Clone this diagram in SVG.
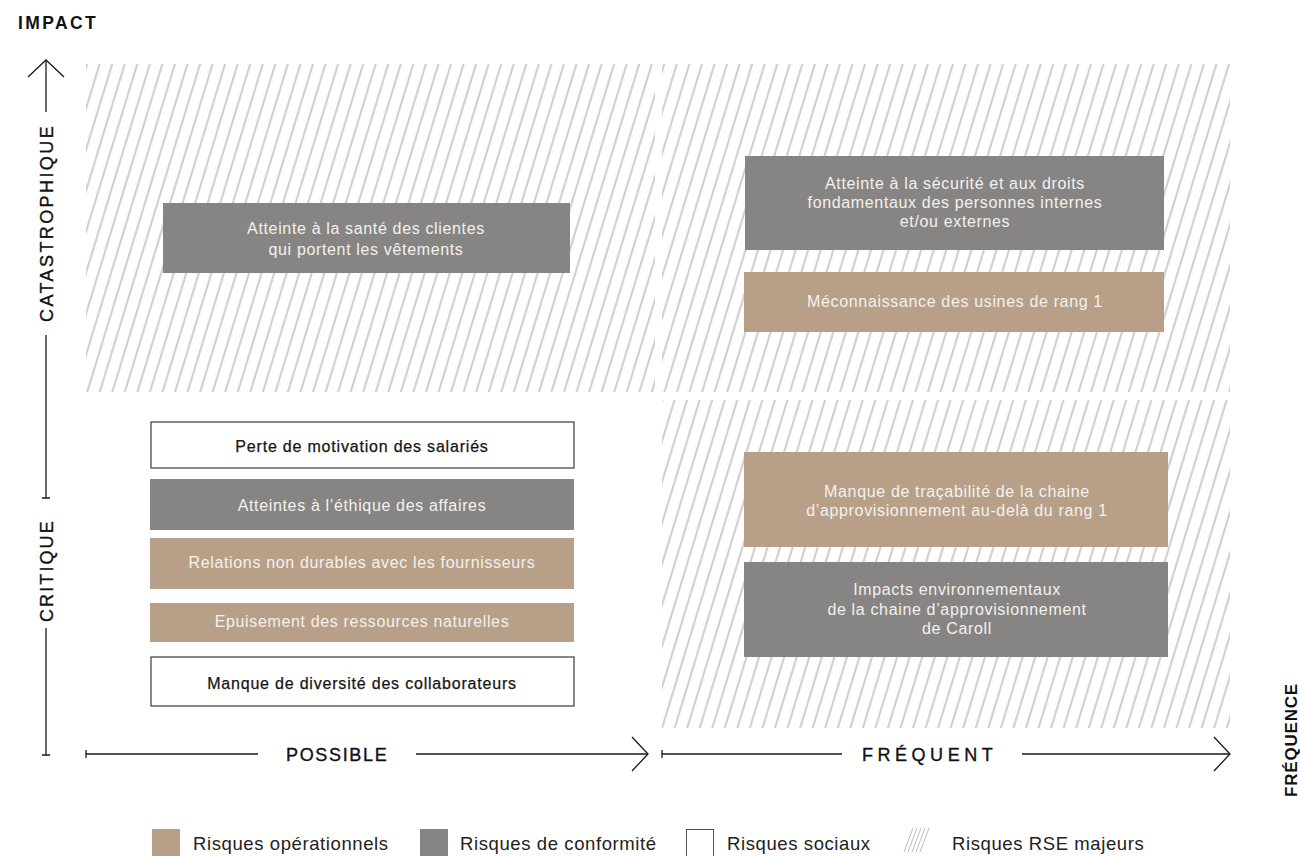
<svg xmlns="http://www.w3.org/2000/svg" width="1300" height="856" viewBox="0 0 1300 856">
<style>
.bt{font-family:"Liberation Sans",Arial,sans-serif;font-size:16px;letter-spacing:0.65px;text-anchor:middle;fill:#f4f1ee}
.dt{font-family:"Liberation Sans",Arial,sans-serif;font-size:16px;letter-spacing:0.8px;text-anchor:middle;fill:#151515;stroke:#151515;stroke-width:0.25}
.grey{fill:#868583}
.tan{fill:#b8a088}
.white{fill:#ffffff;stroke:#3a3a3a;stroke-width:1.2}
.ax{stroke:#1a1a1a;stroke-width:1.3;fill:none}
.al{font-family:"Liberation Sans",Arial,sans-serif;font-size:18px;letter-spacing:1.3px;fill:#111;stroke:#111;stroke-width:0.35;text-anchor:middle}
.lg{font-family:"Liberation Sans",Arial,sans-serif;font-size:18.5px;letter-spacing:0.6px;fill:#222}
</style>
<defs>
<pattern id="hatch" patternUnits="userSpaceOnUse" width="12" height="12" patternTransform="rotate(17)">
<line x1="6" y1="-2" x2="6" y2="14" stroke="#d0d0d0" stroke-width="2.2"/>
</pattern>
</defs>

<g id="hatch-areas">
<rect x="86" y="64" width="569" height="328" fill="url(#hatch)"/>
<rect x="662" y="64" width="568" height="328" fill="url(#hatch)"/>
<rect x="662" y="400" width="568" height="328" fill="url(#hatch)"/>
</g>

<g id="connectors">
<path class="ax" d="M46 60 V112 M46 335 V498 M42 498 H50 M46 628 V755 M42 755 H50"/>
<path class="ax" d="M28 77 L46 60 L64 77"/>
<path class="ax" d="M86 750 V758 M86 754 H258 M416 754 H647"/>
<path class="ax" d="M632 737 L648 754 L632 771"/>
<path class="ax" d="M662 750 V758 M662 754 H842 M1022 754 H1229"/>
<path class="ax" d="M1214 737 L1230 754 L1214 771"/>
</g>

<g id="axis-labels">
<text x="18" y="29" font-family="Liberation Sans, Arial, sans-serif" font-size="17.5" font-weight="bold" letter-spacing="1.2" fill="#111" textLength="79" lengthAdjust="spacing">IMPACT</text>
<text class="al" transform="translate(53,223.5) rotate(-90)" textLength="197" lengthAdjust="spacing">CATASTROPHIQUE</text>
<text class="al" transform="translate(53,571) rotate(-90)" textLength="102" lengthAdjust="spacing">CRITIQUE</text>
<text class="al" x="337" y="761" textLength="102" lengthAdjust="spacing">POSSIBLE</text>
<text class="al" x="928" y="761" textLength="132" lengthAdjust="spacing">FRÉQUENT</text>
<text transform="translate(1297,740) rotate(-90)" font-family="Liberation Sans, Arial, sans-serif" font-size="17" font-weight="bold" letter-spacing="0.8" text-anchor="middle" fill="#111">FRÉQUENCE</text>
</g>

<g id="n-sante">
<rect class="grey" x="163" y="203" width="407" height="70"/>
<text class="bt" x="366" y="234">Atteinte à la santé des clientes</text>
<text class="bt" x="366" y="255">qui portent les vêtements</text>
</g>

<g id="n-securite">
<rect class="grey" x="745" y="156" width="419" height="94"/>
<text class="bt" x="955" y="189">Atteinte à la sécurité et aux droits</text>
<text class="bt" x="955" y="208">fondamentaux des personnes internes</text>
<text class="bt" x="955" y="227">et/ou externes</text>
</g>

<g id="n-meconnaissance">
<rect class="tan" x="744" y="272" width="420" height="60"/>
<text class="bt" x="955" y="307">Méconnaissance des usines de rang 1</text>
</g>

<g id="n-motivation">
<rect class="white" x="151" y="422" width="423" height="46"/>
<text class="dt" x="362" y="452">Perte de motivation des salariés</text>
</g>

<g id="n-ethique">
<rect class="grey" x="150" y="479" width="424" height="51"/>
<text class="bt" x="362" y="511">Atteintes à l’éthique des affaires</text>
</g>

<g id="n-relations">
<rect class="tan" x="150" y="538" width="424" height="51"/>
<text class="bt" x="362" y="568">Relations non durables avec les fournisseurs</text>
</g>

<g id="n-epuisement">
<rect class="tan" x="150" y="603" width="424" height="39"/>
<text class="bt" x="362" y="627">Epuisement des ressources naturelles</text>
</g>

<g id="n-diversite">
<rect class="white" x="151" y="657" width="423" height="49"/>
<text class="dt" x="362" y="689">Manque de diversité des collaborateurs</text>
</g>

<g id="n-tracabilite">
<rect class="tan" x="744" y="452" width="424" height="95"/>
<text class="bt" x="957" y="497">Manque de traçabilité de la chaine</text>
<text class="bt" x="957" y="516">d’approvisionnement au-delà du rang 1</text>
</g>

<g id="n-environnement">
<rect class="grey" x="744" y="562" width="424" height="95"/>
<text class="bt" x="957" y="595">Impacts environnementaux</text>
<text class="bt" x="957" y="615">de la chaine d’approvisionnement</text>
<text class="bt" x="957" y="634">de Caroll</text>
</g>

<g id="legend">
<rect class="tan" x="152" y="829" width="28" height="28"/>
<text class="lg" x="193" y="850">Risques opérationnels</text>
<rect class="grey" x="420" y="829" width="28" height="28"/>
<text class="lg" x="460" y="850">Risques de conformité</text>
<rect x="686.5" y="829.5" width="27" height="28" fill="#fff" stroke="#555" stroke-width="1"/>
<text class="lg" x="727" y="850">Risques sociaux</text>
<path d="M904 852 L913 828 M908 852 L917 828 M912 852 L921 828 M916 852 L925 828 M920 852 L929 828" stroke="#bdbdbd" stroke-width="1"/>
<text class="lg" x="952" y="850">Risques RSE majeurs</text>
</g>
</svg>
